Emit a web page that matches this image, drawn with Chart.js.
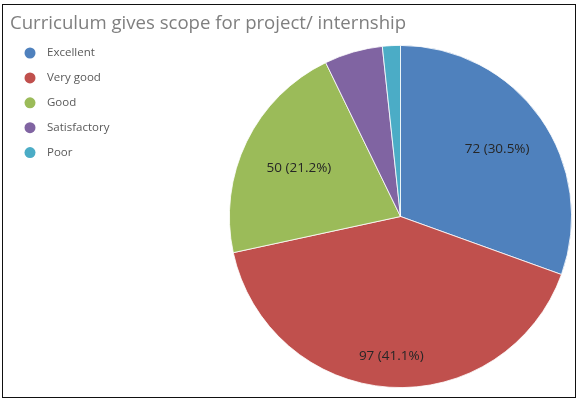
<!DOCTYPE html>
<html>
<head>
<meta charset="utf-8">
<script src="https://cdn.jsdelivr.net/npm/chart.js@4"></script>
<style>
  html, body { margin: 0; padding: 0; background: #fff; }
  #wrap { position: relative; width: 577px; height: 400px; }
  #frame { position: absolute; left: 2px; top: 4px; width: 574px; height: 394px;
           border: 1.5px solid #111; box-sizing: border-box; pointer-events: none; }
</style>
</head>
<body>
<div id="wrap">
  <canvas id="pie" width="577" height="400"></canvas>
  <div id="frame"></div>
</div>
<script>
// Chart data
const chartTitle = 'Curriculum gives scope for project/ internship';
const categories = ['Excellent', 'Very good', 'Good', 'Satisfactory', 'Poor'];
const counts = [72, 97, 50, 13, 4];
const showValue = [true, true, true, false, false];

const colors = ['#4F81BD', '#C0504D', '#9BBB59', '#8064A2', '#4BACC6'];
// how far out (fraction of radius) each value label sits
const labelRadius = [0.69, 0.81, 0.66, 0.7, 0.7];

const total = counts.reduce((a, b) => a + b, 0);

// Title, legend and value labels drawn on top of the pie
const overlay = {
    id: 'overlay',
    afterDraw(chart) {
        const ctx = chart.ctx;
        ctx.save();

        // title
        ctx.fillStyle = '#7f7f7f';
        ctx.font = '18.6px "Open Sans"';
        ctx.textAlign = 'left';
        ctx.textBaseline = 'alphabetic';
        ctx.fillText(chartTitle, 10, 29);

        // legend
        ctx.font = '11.5px "Open Sans"';
        ctx.textBaseline = 'middle';
        chart.data.labels.forEach((name, i) => {
            const y = 53 + i * 24.9;
            ctx.beginPath();
            ctx.arc(30, y, 5.5, 0, Math.PI * 2);
            ctx.fillStyle = colors[i];
            ctx.fill();
            ctx.fillStyle = '#595959';
            ctx.fillText(name, 47, y);
        });

        // value labels
        const meta = chart.getDatasetMeta(0);
        ctx.font = '13.5px "Open Sans"';
        ctx.textAlign = 'center';
        ctx.fillStyle = '#262626';
        meta.data.forEach((arc, i) => {
            if (!showValue[i]) return;
            const mid = (arc.startAngle + arc.endAngle) / 2;
            const r = arc.outerRadius * labelRadius[i];
            const v = counts[i];
            const txt = v + ' (' + (v / total * 100).toFixed(1) + '%)';
            ctx.fillText(txt, arc.x + Math.cos(mid) * r, arc.y + Math.sin(mid) * r + 1);
        });
        ctx.restore();
    }
};

new Chart(document.getElementById('pie'), {
    type: 'pie',
    data: {
        labels: categories,
        datasets: [{
            data: counts,
            backgroundColor: colors,
            borderColor: '#ffffff',
            borderWidth: 0.8
        }]
    },
    options: {
        responsive: false,
        animation: false,
        layout: { padding: { left: 229, top: 45, right: 5, bottom: 12 } },
        plugins: {
            legend: { display: false },
            title: { display: false },
            tooltip: { enabled: false }
        }
    },
    plugins: [overlay]
});
</script>
</body>
</html>
